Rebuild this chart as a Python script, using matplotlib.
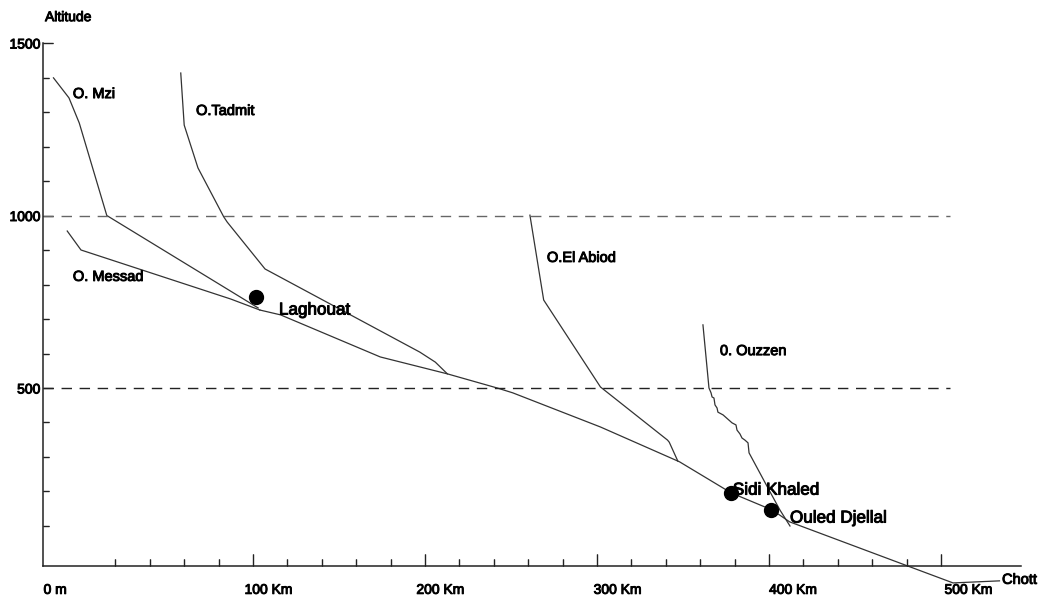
import matplotlib.pyplot as plt
import matplotlib.patheffects as pe

# distance along the wadis (km) and altitude (m)
mzi_km = [-16, -7, -1, 15, 103]
mzi_alt = [1399, 1341, 1268, 1000, 732]

messad_km = [-8, 0, 87, 104]
messad_alt = [955, 900, 758, 726]

# common bed downstream of Laghouat down to the chott
djedi_km = [104, 116, 174, 213, 242, 251, 302, 348, 378, 402, 412, 507, 534]
djedi_alt = [726, 712, 590, 541, 500, 486, 387, 286, 196, 146, 112, -65, -59]

tadmit_km = [58, 60, 68, 83, 85, 107, 197, 206, 213]
tadmit_alt = [1413, 1262, 1138, 996, 981, 845, 604, 575, 541]

abiod_km = [261, 269, 302, 341, 342, 347]
abiod_alt = [1001, 755, 503, 349, 343, 288]

ouzzen_km = [361.6, 365.1, 366.3, 366.9, 368.0, 368.6, 369.8, 370.3, 373.3, 378.5,
             380.8, 381.4, 383.1, 384.3, 386.0, 387.8, 388.4, 400.6, 406.4, 412.2]
ouzzen_alt = [683, 500, 486, 474, 471, 451, 442, 430, 422, 399,
              393, 378, 367, 355, 349, 341, 312, 199, 146, 100]

town_names = ['Laghouat', 'Sidi Khaled', 'Ouled Djellal']
town_km = [102, 378, 401]
town_alt = [764, 196, 146]

ref_levels = [1000, 500]
x_major = [100, 200, 300, 400, 500]
x_labels = ['0 m', '100 Km', '200 Km', '300 Km', '400 Km', '500 Km']
y_major = [500, 1000, 1500]
y_labels = ['500', '1000', '1500']


def main():
	plt.rcParams['font.family'] = ['Liberation Sans', 'DejaVu Sans']
	# the scanned original has heavy, slightly smeared lettering
	plt.rcParams['path.effects'] = [pe.withStroke(linewidth=0.7, foreground='black')]

	fig = plt.figure(figsize=(10.42, 6.03), dpi=100)
	ax = fig.add_axes([0, 0, 1, 1])
	ax.set_xlim(-47.09, 558.72)
	ax.set_ylim(-123.19, 1624.64)

	line = dict(color='#333333', lw=0.9, path_effects=[])
	ax.plot(mzi_km, mzi_alt, **line)
	ax.plot(messad_km, messad_alt, **line)
	ax.plot(djedi_km, djedi_alt, **line)
	ax.plot(tadmit_km, tadmit_alt, **line)
	ax.plot(abiod_km, abiod_alt, **line)
	ax.plot(ouzzen_km, ouzzen_alt, **line)

	ref = ax.hlines(ref_levels, -22, 505, colors=['#666666', '#222222'], lw=1,
					linestyles=(0, (7.5, 5.5)))
	ref.set_path_effects([])

	ax.plot(town_km, town_alt, 'o', color='black', ms=10, path_effects=[])

	# wadi names
	small = dict(fontsize=10.5, ha='left', va='center')
	ax.text(-4.7, 1352, 'O. Mzi', **small)
	ax.text(66.9, 1303, 'O.Tadmit', **small)
	ax.text(-4.7, 822, 'O. Messad', **small)
	ax.text(270.9, 877, 'O.El Abiod', **small)
	ax.text(371.5, 607, '0. Ouzzen', **small)
	ax.text(535.5, -56, 'Chott', **small)

	# towns
	big = dict(fontsize=12.3, ha='left', va='center')
	ax.text(115.1, 726, town_names[0], **big)
	ax.text(379, 204, town_names[1], **big)
	ax.text(412.2, 123, town_names[2], **big)

	ax.text(-20.9, 1575, 'Altitude', fontsize=10, ha='left', va='center')

	for s in ['top', 'right']:
		ax.spines[s].set_visible(False)
	ax.spines['left'].set_position(('data', -22))
	ax.spines['left'].set_bounds(-16, 1500)
	ax.spines['bottom'].set_position(('data', -16))
	ax.spines['bottom'].set_bounds(-22, 546.5)
	for s in ['left', 'bottom']:
		ax.spines[s].set_color('#222222')
		ax.spines[s].set_linewidth(1.1)
		ax.spines[s].set_path_effects([])

	ax.set_xticks(x_major)
	ax.set_xticks([k for k in range(0, 500, 20) if k % 100 != 0], minor=True)
	ax.tick_params(axis='x', which='major', direction='in', length=9, width=1,
				   color='#222222', labelbottom=False)
	ax.tick_params(axis='x', which='minor', direction='in', length=5, width=1,
				   color='#222222')

	ax.set_yticks(y_major, y_labels)
	ax.set_yticks([a for a in range(100, 1500, 100) if a % 500 != 0], minor=True)
	ax.tick_params(axis='y', which='major', direction='in', length=7, width=1,
				   color='#222222', labelsize=10, pad=2)
	ax.tick_params(axis='y', which='minor', direction='in', length=4.5, width=1,
				   color='#222222')

	label_pos = [-15, 109, 209, 312, 414, 516]
	for xp, lab in zip(label_pos, x_labels):
		ax.text(xp, -85, lab, fontsize=10, ha='center', va='center')

	fig.savefig('out.png', dpi=100, facecolor='white')


if __name__ == "__main__":
	main()
